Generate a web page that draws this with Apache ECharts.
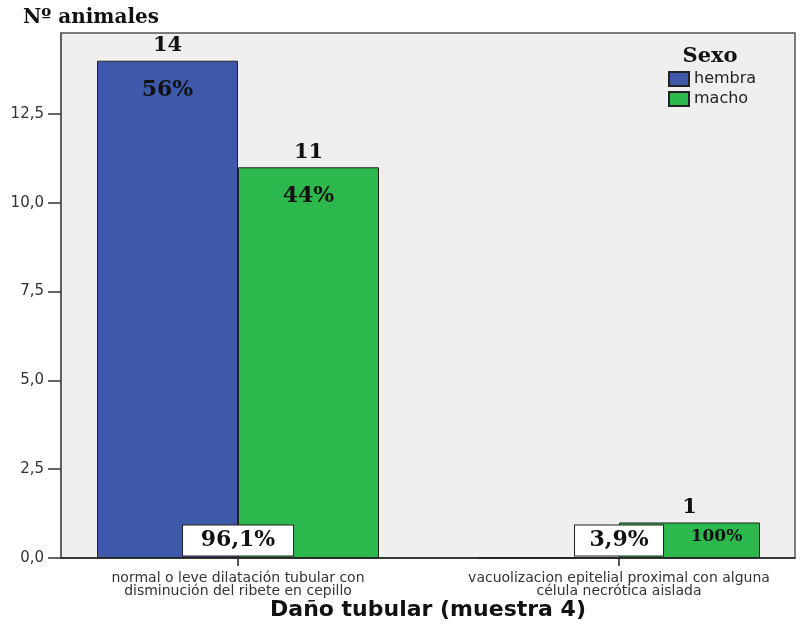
<!DOCTYPE html>
<html>
<head>
<meta charset="utf-8">
<script src="https://cdn.jsdelivr.net/npm/echarts@6/dist/echarts.min.js"></script>
<style>html,body{margin:0;padding:0;background:#fff}#c{width:804px;height:626px}</style>
</head>
<body>
<div id="c"></div>
<script>
const categories = ['normal o leve dilatación tubular con\ndisminución del ribete en cepillo', 'vacuolizacion epitelial proximal con alguna\ncélula necrótica aislada'];
const seriesNames = ['hembra', 'macho'];
const hembraValues = [14, 0];
const machoValues = [11, 1];
const hembraPct = ['56%', ''];
const machoPct = ['44%', '100%'];
const categoryPct = ['96,1%', '3,9%'];
const yTicks = [0, 2.5, 5, 7.5, 10, 12.5];

const serif = 'DejaVu Serif';
const sans = 'DejaVu Sans';
const colors = ['#3e58aa', '#2db84d'];

function barData(values, pcts) {
  return values.map((v, i) => {
    if (v === 0) return { value: [i, v], label: { show: false } };
    const big = v >= 3;
    return {
      value: [i, v],
      label: {
        show: true,
        position: ['50%', -28],
        align: 'center',
        verticalAlign: 'top',
        formatter: '{n|' + v + '}\n{' + (big ? 'p' : 'q') + '|' + pcts[i] + '}'
      }
    };
  });
}

const rich = {
  n: { fontFamily: serif, fontWeight: 'bold', fontSize: 21, color: '#111', lineHeight: 26 },
  p: { fontFamily: serif, fontWeight: 'bold', fontSize: 22, color: '#111', lineHeight: 63 },
  q: { fontFamily: serif, fontWeight: 'bold', fontSize: 17, color: '#111', lineHeight: 33, padding: [0, 0, 0, 54] }
};

const boxWidths = [110, 88];

const chart = echarts.init(document.getElementById('c'), null, { renderer: 'canvas' });
chart.setOption({
  animation: false,
  backgroundColor: '#ffffff',
  title: [
    { text: 'Nº animales', left: 18, top: 3, textStyle: { fontFamily: serif, fontWeight: 'bold', fontSize: 20, color: '#111' } },
    { text: 'Sexo', left: 705, top: 41, textAlign: 'center', textStyle: { fontFamily: serif, fontWeight: 'bold', fontSize: 21, color: '#111' } }
  ],
  legend: {
    data: seriesNames,
    orient: 'vertical',
    icon: 'rect',
    left: 663, top: 66,
    itemWidth: 20, itemHeight: 14, itemGap: 4,
    textStyle: { fontFamily: sans, fontSize: 16, color: '#222' }
  },
  grid: {
    left: 61, right: 9, top: 33, bottom: 68,
    outerBoundsMode: 'none', containLabel: false,
    show: true, backgroundColor: '#efefef', borderColor: '#555', borderWidth: 1.5
  },
  xAxis: {
    type: 'value',
    min: -0.4646, max: 1.4619,
    splitLine: { show: false },
    axisLine: { show: true, onZero: false, lineStyle: { color: '#222', width: 1.5 } },
    axisTick: { show: true, customValues: [0, 1], length: 8, lineStyle: { color: '#222', width: 1.5 } },
    axisLabel: {
      customValues: [0, 1],
      formatter: v => categories[Math.round(v)],
      margin: 14, fontFamily: sans, fontSize: 14, lineHeight: 13, color: '#333'
    },
    name: 'Daño tubular (muestra 4)',
    nameLocation: 'middle', nameGap: 41, nameMoveOverlap: false,
    nameTextStyle: { fontFamily: sans, fontWeight: 'bold', fontSize: 22, color: '#111' }
  },
  yAxis: {
    type: 'value', min: 0, max: 14.78,
    splitLine: { show: false },
    axisLine: { show: true, onZero: false, lineStyle: { color: '#555', width: 1.5 } },
    axisTick: { show: true, customValues: yTicks, length: 13, lineStyle: { color: '#333', width: 1.5 } },
    axisLabel: {
      customValues: yTicks, margin: 17,
      formatter: v => v.toFixed(1).replace('.', ','),
      fontFamily: sans, fontSize: 15, color: '#333'
    }
  },
  series: [
    {
      name: seriesNames[0], type: 'bar', barWidth: 141, barGap: '0%',
      itemStyle: { color: colors[0], borderColor: '#222', borderWidth: 1 },
      label: { rich: rich },
      data: barData(hembraValues, hembraPct)
    },
    {
      name: seriesNames[1], type: 'bar', barWidth: 141, barGap: '0%',
      itemStyle: { color: colors[1], borderColor: '#222', borderWidth: 1 },
      label: { rich: rich },
      data: barData(machoValues, machoPct)
    },
    {
      name: 'total', type: 'scatter', symbolSize: 1, z: 10,
      itemStyle: { color: 'rgba(0,0,0,0)', opacity: 1 },
      label: {
        show: true, position: 'top', distance: 2,
        backgroundColor: '#ffffff', borderColor: '#222', borderWidth: 1,
        fontFamily: serif, fontWeight: 'bold', fontSize: 22, color: '#111',
        lineHeight: 30, align: 'center'
      },
      data: categoryPct.map((t, i) => ({ value: [i, 0], label: { formatter: t, width: boxWidths[i] } }))
    }
  ]
});
</script>
</body>
</html>
